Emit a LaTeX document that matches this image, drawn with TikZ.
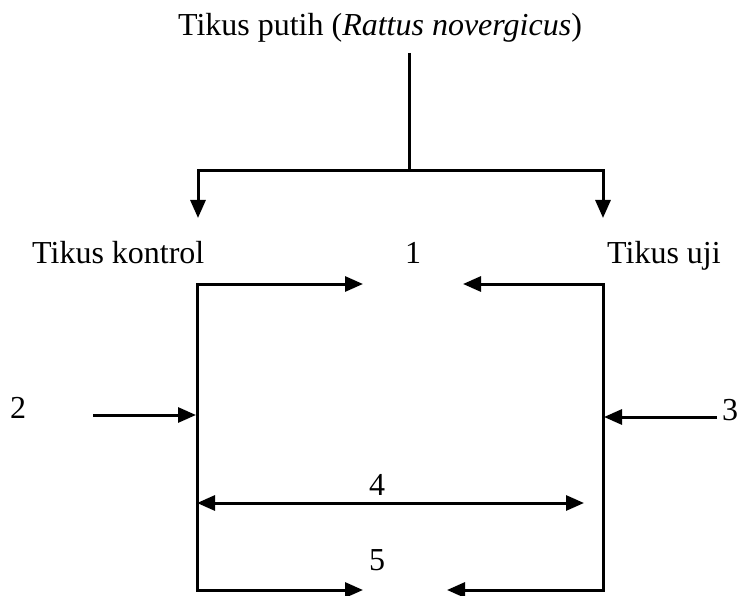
\documentclass[tikz,border=0pt]{standalone}
\usepackage{fontspec}
\setmainfont{Liberation Serif}
\usetikzlibrary{arrows.meta}
\begin{document}
\begin{tikzpicture}[x=1pt,y=-1pt,
  lbl/.style={inner sep=0pt,anchor=base,font=\fontsize{32}{38}\selectfont},
  conn/.style={line width=3pt},
  arr/.style={conn,-{Triangle[length=18pt,width=15pt]}},
  darr/.style={conn,{Triangle[length=18pt,width=15pt]}-{Triangle[length=18pt,width=15pt]}}]
\useasboundingbox (0,0) rectangle (739,596);

% labels
\node[lbl] (title) at (380,36) {Tikus putih (\textit{Rattus novergicus})};
\node[lbl,anchor=base west] (kontrol) at (32,264) {Tikus kontrol};
\node[lbl,anchor=base west] (uji) at (607,264) {Tikus uji};
\node[lbl] (n1) at (413,264) {1};
\node[lbl] (n2) at (18,418) {2};
\node[lbl] (n3) at (730,420) {3};
\node[lbl] (n4) at (377,495) {4};
\node[lbl] (n5) at (377,570) {5};

% branching from the title
\coordinate (stem) at (409,53);
\coordinate (fork) at (409,171);
\coordinate (forkL) at (198,171);
\coordinate (forkR) at (603,171);
\coordinate (tipL) at (198,218);
\coordinate (tipR) at (603,218);
\draw[conn] (stem) -- (fork);
\draw[conn,line cap=rect] (forkL) -- (forkR);
\draw[arr] (forkL) -- (tipL);
\draw[arr] (forkR) -- (tipR);

% frame corners
\coordinate (cTL) at (197,284);
\coordinate (cBL) at (197,590);
\coordinate (cTR) at (603,284);
\coordinate (cBR) at (603,590);

% comparison 1 (top)
\coordinate (t1L) at (363,284);
\coordinate (t1R) at (463,284);
\draw[arr,line cap=rect] (cTL) -- (t1L);
\draw[arr,line cap=rect] (cTR) -- (t1R);

% sides
\draw[conn,line cap=rect] (cTL) -- (cBL);
\draw[conn,line cap=rect] (cTR) -- (cBR);

% inputs 2 and 3
\coordinate (s2) at (93,415);
\coordinate (e2) at (196,415);
\coordinate (s3) at (717,417);
\coordinate (e3) at (604,417);
\draw[arr] (s2) -- (e2);
\draw[arr] (s3) -- (e3);

% comparison 4
\coordinate (a4L) at (197,503);
\coordinate (a4R) at (584,503);
\draw[darr] (a4L) -- (a4R);

% comparison 5 (bottom)
\coordinate (t5L) at (363,590);
\coordinate (t5R) at (447,590);
\draw[arr,line cap=rect] (cBL) -- (t5L);
\draw[arr,line cap=rect] (cBR) -- (t5R);
\end{tikzpicture}
\end{document}
